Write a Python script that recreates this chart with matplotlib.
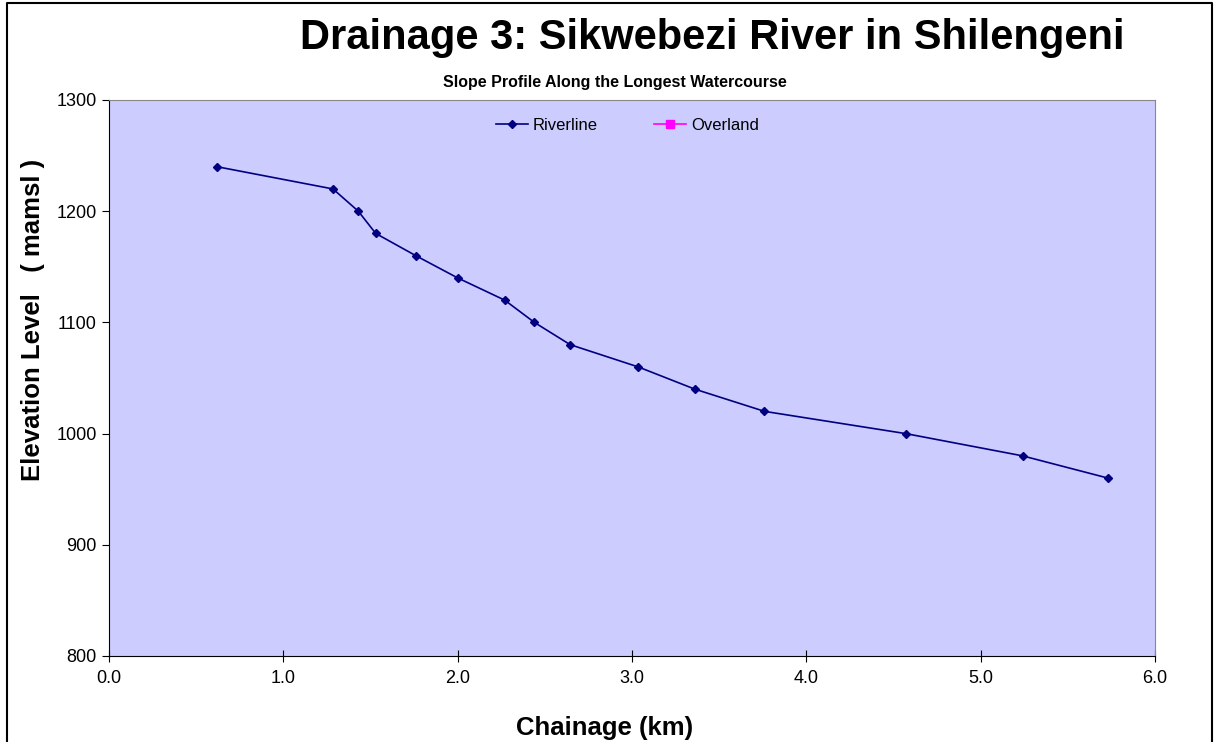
import matplotlib.pyplot as plt
from matplotlib.lines import Line2D

chainage = [0.62, 1.285, 1.43, 1.53, 1.76, 2.0, 2.27, 2.44, 2.645, 3.035, 3.36, 3.76, 4.57, 5.24, 5.73]
elevation = [1240, 1220, 1200, 1180, 1160, 1140, 1120, 1100, 1080, 1060, 1040, 1020, 1000, 980, 960]
overland_x = []
overland_y = []

x_ticks = [0.0, 1.0, 2.0, 3.0, 4.0, 5.0, 6.0]
y_ticks = [800, 900, 1000, 1100, 1200, 1300]

plt.rcParams['font.family'] = ['Liberation Sans', 'DejaVu Sans']

fig = plt.figure(figsize=(12.15, 7.42), dpi=100)
W, H = 1215, 742
ax = fig.add_axes([109 / W, 1 - 656 / H, (1155 - 109) / W, (656 - 100) / H])
ax.set_facecolor('#CCCCFF')

ax.plot(chainage, elevation, color='#000080', marker='D', markersize=4, lw=1.2, label='Riverline')
ax.plot(overland_x, overland_y, color='#FF00FF', marker='s', markersize=6, lw=1.2, label='Overland')

ax.set_xlim(0, 6)
ax.set_ylim(800, 1300)
ax.set_xticks(x_ticks)
ax.set_xticklabels(['%.1f' % v for v in x_ticks])
ax.set_yticks(y_ticks)
ax.tick_params(axis='x', direction='inout', length=8, labelsize=13, pad=6)
ax.tick_params(axis='y', direction='out', length=5, labelsize=13, pad=4)

for s in ['top', 'right']:
    ax.spines[s].set_color('#888888')
for s in ['left', 'bottom']:
    ax.spines[s].set_color('black')

ax.legend(loc='center left', bbox_to_anchor=((496 - 109) / 1046, 1 - 25 / 556), ncol=2, frameon=False,
          fontsize=12, columnspacing=3.4, handlelength=1.9, handletextpad=0.3, borderpad=0, borderaxespad=0)

fig.text(712 / W, 1 - 38 / H, 'Drainage 3: Sikwebezi River in Shilengeni', ha='center', va='center',
         fontsize=30, fontweight='bold')
fig.text(615 / W, 1 - 83 / H, 'Slope Profile Along the Longest Watercourse', ha='center', va='center',
         fontsize=11.5, fontweight='bold')

fig.text(33 / W, 1 - 320 / H, 'Elevation Level   ( mamsl )', ha='center', va='center', rotation=90,
         fontsize=18.5, fontweight='bold')
fig.text(605 / W, 1 - 728 / H, 'Chainage (km)', ha='center', va='center', fontsize=18.5, fontweight='bold')

# outer chart border (bottom edge is cut off in the original)
fig.add_artist(Line2D([7 / W, 7 / W, 1212 / W, 1212 / W], [0, 1 - 3 / H, 1 - 3 / H, 0],
                      color='black', lw=1.5, transform=fig.transFigure))

plt.savefig('out.png', dpi=100)
